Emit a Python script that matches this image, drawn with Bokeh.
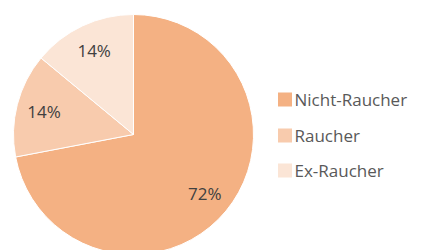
import math
from bokeh.plotting import figure
from bokeh.models import Range1d, ColumnDataSource
from bokeh.core.properties import value
from bokeh.embed import file_html
from bokeh.resources import INLINE

categories = ["Nicht-Raucher", "Raucher", "Ex-Raucher"]
shares = [72, 14, 14]
labels = ["72%", "14%", "14%"]
colors = ["#F4B183", "#F8CBAD", "#FBE5D6"]

W, H = 422, 250
p = figure(width=W, height=H, output_backend="svg", toolbar_location=None,
           x_range=Range1d(0, W), y_range=Range1d(0, H),
           min_border=0, outline_line_color=None, background_fill_color="white")
p.axis.visible = False
p.grid.visible = False

cx, cy, r = 133, 250 - 134, 120
total = sum(shares)
starts, ends, lx, ly = [], [], [], []
cum = 0
for s in shares:
    a0 = math.pi / 2 - 2 * math.pi * cum / total
    cum += s
    a1 = math.pi / 2 - 2 * math.pi * cum / total
    starts.append(a0)
    ends.append(a1)
    mid = (a0 + a1) / 2
    lx.append(cx + 0.77 * r * math.cos(mid))
    ly.append(cy + 0.77 * r * math.sin(mid))

src = ColumnDataSource(dict(start=starts, end=ends, color=colors, lx=lx, ly=ly, label=labels))
p.wedge(x=cx, y=cy, radius=r, start_angle="start", end_angle="end", direction="clock",
        fill_color="color", line_color="white", line_width=1, source=src)
p.text(x="lx", y="ly", text="label", source=src, text_font=value("Open Sans"),
       text_font_size="17px", text_color="#404040", text_align="center", text_baseline="middle")

leg_y = [250 - 99, 250 - 135, 250 - 170]
leg = ColumnDataSource(dict(y=leg_y, color=colors, name=categories))
p.rect(x=284.5, y="y", width=14, height=14, fill_color="color", line_color=None, source=leg)
p.text(x=294, y="y", text="name", source=leg, text_font=value("Open Sans"),
       text_font_size="17px", text_color="#595959", text_align="left", text_baseline="middle")

open("out.html", "w").write(file_html(p, INLINE))
